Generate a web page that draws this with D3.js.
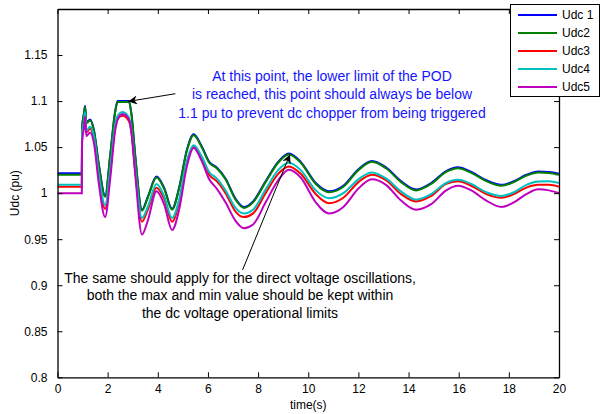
<!DOCTYPE html>
<html>
<head>
<meta charset="utf-8">
<script src="https://cdn.jsdelivr.net/npm/d3@7"></script>
<style>
  body { margin: 0; background: #fff; }
  svg { display: block; font-family: "Liberation Sans", Arial, sans-serif; }
</style>
</head>
<body>
<svg id="chart" width="600" height="414"></svg>
<script>
// time samples (s)
const time = [0, 0.97, 0.98, 1.05, 1.1, 1.15, 1.3, 1.45, 1.65, 1.9,
  2.1, 2.3, 2.4, 2.6, 2.85, 2.95, 3.1, 3.37, 3.6, 3.95,
  4.25, 4.57, 4.85, 5.15, 5.43, 5.75, 6.05, 6.35, 6.7, 7.1,
  7.43, 7.8, 8.3, 8.8, 9.23, 9.7, 10.3, 10.83, 11.4, 12.0,
  12.54, 13.1, 13.7, 14.3, 14.9, 15.5, 15.97, 16.5, 17.1, 17.7,
  18.2, 18.7, 19.17, 19.6, 20];

const udc1 = [1.0215, 1.0215, 1.071, 1.086, 1.095, 1.077, 1.080, 1.069, 1.031, 0.997,
  1.041, 1.089, 1.100, 1.100, 1.100, 1.086, 1.041, 0.982, 0.996, 1.018,
  1.006, 0.983, 1.006, 1.046, 1.064, 1.051, 1.034, 1.028, 1.016, 0.994,
  0.985, 0.991, 1.013, 1.034, 1.043, 1.034, 1.011, 1.002, 1.008, 1.026,
  1.035, 1.028, 1.013, 1.004, 1.011, 1.024, 1.028, 1.023, 1.014, 1.009,
  1.013, 1.020, 1.0235, 1.023, 1.021];

const udc2 = [1.020, 1.020, 1.070, 1.085, 1.094, 1.076, 1.079, 1.068, 1.030, 0.996,
  1.040, 1.088, 1.099, 1.099, 1.099, 1.085, 1.040, 0.981, 0.995, 1.017,
  1.005, 0.982, 1.005, 1.045, 1.063, 1.050, 1.033, 1.027, 1.015, 0.993,
  0.984, 0.990, 1.012, 1.033, 1.042, 1.033, 1.010, 1.001, 1.007, 1.025,
  1.034, 1.027, 1.012, 1.003, 1.010, 1.023, 1.027, 1.022, 1.013, 1.008,
  1.012, 1.019, 1.0225, 1.022, 1.020];

const udc3 = [1.007, 1.007, 1.062, 1.075, 1.086, 1.066, 1.070, 1.060, 1.017, 0.983,
  1.022, 1.072, 1.081, 1.084, 1.078, 1.066, 1.024, 0.969, 0.982, 1.006,
  0.994, 0.969, 0.990, 1.032, 1.050, 1.038, 1.020, 1.013, 1.000, 0.980,
  0.974, 0.978, 1.000, 1.021, 1.029, 1.021, 0.999, 0.989, 0.995, 1.012,
  1.020, 1.014, 0.999, 0.991, 0.997, 1.010, 1.013, 1.008, 0.999, 0.995,
  0.999, 1.006, 1.009, 1.009, 1.007];

const udc4 = [1.009, 1.009, 1.064, 1.077, 1.088, 1.068, 1.072, 1.062, 1.020, 0.987,
  1.025, 1.075, 1.084, 1.088, 1.082, 1.068, 1.026, 0.973, 0.985, 1.010,
  0.997, 0.973, 0.993, 1.034, 1.052, 1.040, 1.023, 1.016, 1.003, 0.984,
  0.978, 0.982, 1.004, 1.025, 1.033, 1.025, 1.003, 0.9945, 1.000, 1.015,
  1.0224, 1.016, 1.002, 0.993, 0.999, 1.011, 1.0145, 1.010, 1.001, 0.997,
  1.001, 1.009, 1.0126, 1.013, 1.011];

const udc5 = [1.000, 1.000, 1.055, 1.070, 1.083, 1.062, 1.066, 1.055, 1.010, 0.974,
  1.015, 1.068, 1.080, 1.086, 1.080, 1.065, 1.020, 0.955, 0.970, 1.002,
  0.988, 0.960, 0.982, 1.028, 1.049, 1.035, 1.015, 1.005, 0.990, 0.970,
  0.962, 0.966, 0.990, 1.014, 1.0255, 1.017, 0.990, 0.978, 0.985, 1.005,
  1.015, 1.009, 0.992, 0.982, 0.988, 1.003, 1.008, 1.003, 0.992, 0.985,
  0.990, 0.999, 1.0043, 1.003, 1.000];

const seriesNames = ['Udc 1', 'Udc2', 'Udc3', 'Udc4', 'Udc5'];
const seriesValues = [udc1, udc2, udc3, udc4, udc5];
const seriesColors = ['#0000ff', '#008000', '#ff0000', '#00bfbf', '#bf00bf'];

const xTicks = [0, 2, 4, 6, 8, 10, 12, 14, 16, 18, 20];
const yTicks = [0.8, 0.85, 0.9, 0.95, 1, 1.05, 1.1, 1.15];

// arrows in data coords: [tailT, tailV, tipT, tipV]
const arrows = [
  [4.7, 1.108, 2.82, 1.0996],
  [7.38, 0.9166, 9.27, 1.042]
];

const blueNote = [
  'At this point, the lower limit of the POD',
  'is reached, this point should always be below',
  '1.1 pu to prevent dc chopper from being triggered'
];
const blackNote = [
  'The same should apply for the direct voltage oscillations,',
  'both the max and min value should be kept within',
  'the dc voltage operational limits'
];

const plot = { left: 57.5, right: 559, top: 9, bottom: 377.3 };

const svg = d3.select('#chart');

const x = d3.scaleLinear().domain([0, 20]).range([plot.left, plot.right]);
const y = d3.scaleLinear().domain([0.8, 1.2]).range([plot.bottom, plot.top]);

svg.append('defs')
  .append('clipPath')
  .attr('id', 'clip')
  .append('rect')
  .attr('x', plot.left)
  .attr('y', plot.top)
  .attr('width', plot.right - plot.left)
  .attr('height', plot.bottom - plot.top);

svg.append('defs')
  .append('marker')
  .attr('id', 'head')
  .attr('viewBox', '0 0 10 10')
  .attr('refX', 10)
  .attr('refY', 5)
  .attr('markerWidth', 12)
  .attr('markerHeight', 9)
  .attr('markerUnits', 'userSpaceOnUse')
  .attr('orient', 'auto')
  .append('path')
  .attr('d', 'M0,0 L10,5 L0,10 L3,5 Z')
  .attr('fill', '#000');

// series lines
const line = d3.line()
  .x((d, i) => x(time[i]))
  .y((d) => y(d))
  .curve(d3.curveMonotoneX);

svg.append('g')
  .attr('clip-path', 'url(#clip)')
  .selectAll('path')
  .data(seriesValues)
  .enter()
  .append('path')
  .attr('d', (d) => line(d))
  .attr('fill', 'none')
  .attr('stroke', (d, i) => seriesColors[i])
  .attr('stroke-width', 2);

// axes, matlab style box with inward ticks
const axisBottom = d3.axisBottom(x).tickValues(xTicks).tickSizeInner(-5).tickSizeOuter(0).tickPadding(7)
  .tickFormat(d3.format('d'));
const axisTop = d3.axisTop(x).tickValues(xTicks).tickSizeInner(-5).tickSizeOuter(0).tickFormat('');
const axisLeft = d3.axisLeft(y).tickValues(yTicks).tickSizeInner(-5).tickSizeOuter(0).tickPadding(10)
  .tickFormat((d) => d3.format('')(+d.toFixed(2)));
const axisRight = d3.axisRight(y).tickValues(yTicks).tickSizeInner(-5).tickSizeOuter(0).tickFormat('');

svg.append('g').attr('transform', `translate(0,${plot.bottom})`).call(axisBottom);
svg.append('g').attr('transform', `translate(0,${plot.top})`).call(axisTop);
svg.append('g').attr('transform', `translate(${plot.left},0)`).call(axisLeft);
svg.append('g').attr('transform', `translate(${plot.right},0)`).call(axisRight);

svg.selectAll('.domain').attr('stroke', '#000').attr('stroke-width', 1.3);
svg.selectAll('.tick line').attr('stroke', '#000');
svg.selectAll('.tick text')
  .attr('fill', '#000')
  .style('font-size', '12px')
  .style('font-family', '"Liberation Sans", Arial, sans-serif');

// axis labels
svg.append('text')
  .attr('x', (plot.left + plot.right) / 2)
  .attr('y', 409)
  .attr('text-anchor', 'middle')
  .style('font-size', '12px')
  .text('time(s)');

svg.append('text')
  .attr('transform', `translate(19,${y(1)}) rotate(-90)`)
  .attr('text-anchor', 'middle')
  .style('font-size', '12px')
  .text('Udc (pu)');

// annotations
svg.append('g')
  .selectAll('line')
  .data(arrows)
  .enter()
  .append('line')
  .attr('x1', (d) => x(d[0]))
  .attr('y1', (d) => y(d[1]))
  .attr('x2', (d) => x(d[2]))
  .attr('y2', (d) => y(d[3]))
  .attr('stroke', '#000')
  .attr('stroke-width', 1)
  .attr('marker-end', 'url(#head)');

svg.append('g')
  .selectAll('text')
  .data(blueNote)
  .enter()
  .append('text')
  .attr('x', 332)
  .attr('y', (d, i) => 81 + i * 18.3)
  .attr('text-anchor', 'middle')
  .attr('fill', '#1515ff')
  .style('font-size', '14px')
  .text((d) => d);

svg.append('g')
  .selectAll('text')
  .data(blackNote)
  .enter()
  .append('text')
  .attr('x', 240)
  .attr('y', (d, i) => 283 + i * 17.3)
  .attr('text-anchor', 'middle')
  .attr('fill', '#000')
  .style('font-size', '14px')
  .text((d) => d);

// legend
const legend = svg.append('g');
legend.append('rect')
  .attr('x', 510.5)
  .attr('y', 4.5)
  .attr('width', 89)
  .attr('height', 92)
  .attr('fill', '#fff')
  .attr('stroke', '#000')
  .attr('stroke-width', 1);

const items = legend.selectAll('g.item')
  .data(seriesNames)
  .enter()
  .append('g')
  .attr('class', 'item')
  .attr('transform', (d, i) => `translate(0,${15 + i * 18})`);

items.append('line')
  .attr('x1', 518)
  .attr('x2', 557)
  .attr('stroke', (d, i) => seriesColors[i])
  .attr('stroke-width', 2);

items.append('text')
  .attr('x', 562)
  .attr('y', 4)
  .style('font-size', '12px')
  .text((d) => d);
</script>
</body>
</html>
